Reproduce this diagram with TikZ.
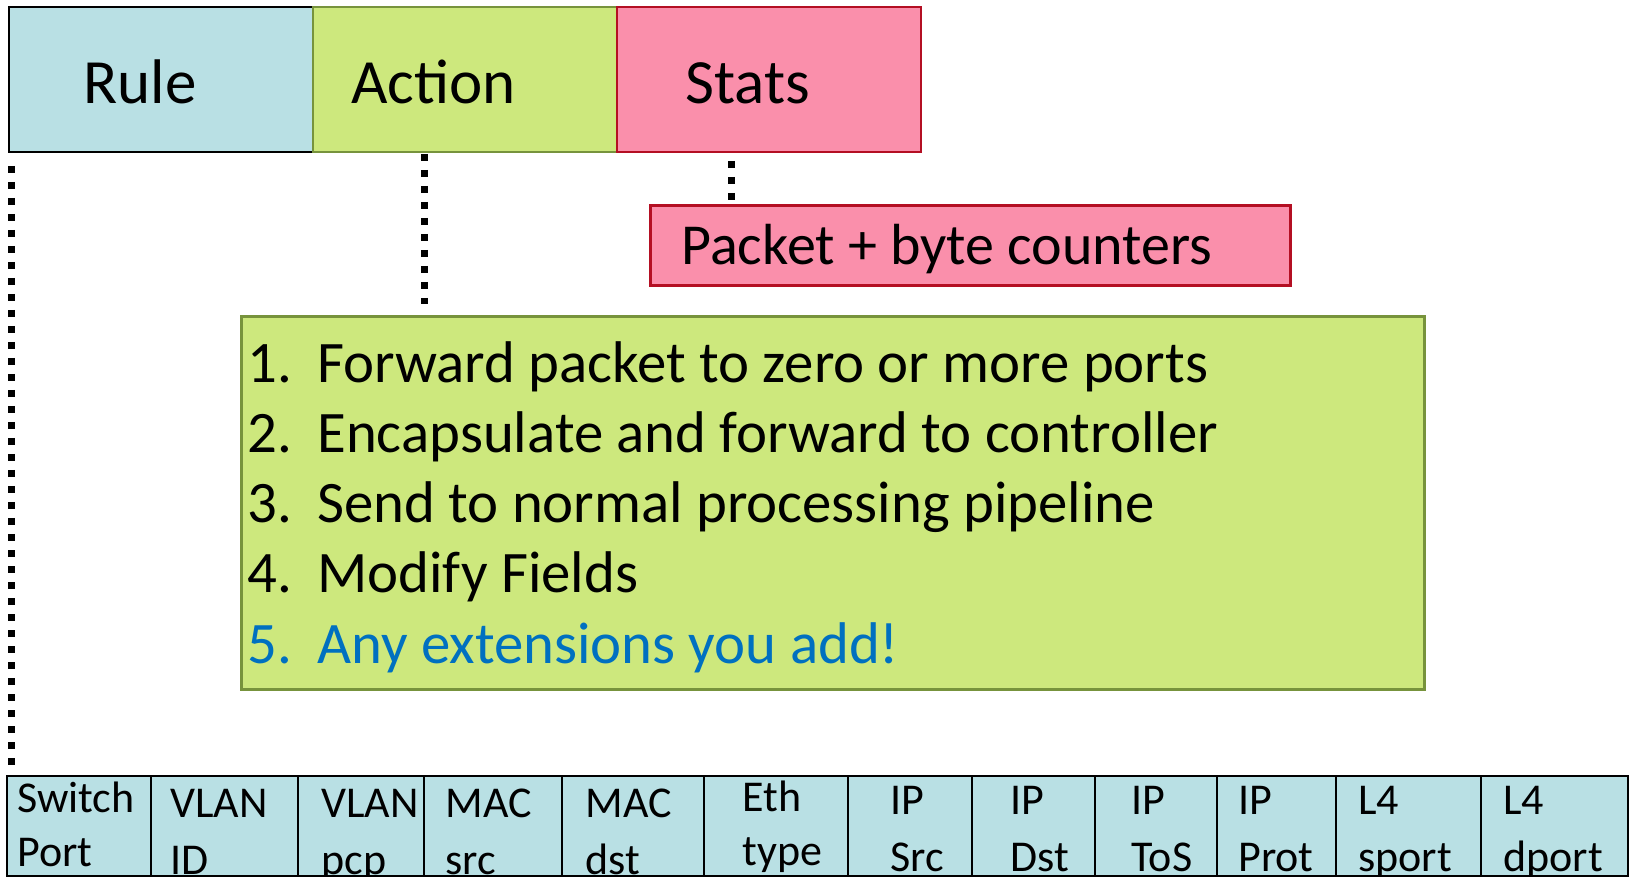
\documentclass[tikz,border=0pt]{standalone}
\usepackage{fontspec}
\setmainfont{Carlito}
\usetikzlibrary{positioning,calc}

\definecolor{ruleblue}{RGB}{185,224,228}
\definecolor{actgreen}{RGB}{205,232,125}
\definecolor{statpink}{RGB}{250,143,171}
\definecolor{olive}{RGB}{119,147,60}
\definecolor{darkred}{RGB}{180,15,35}
\definecolor{addblue}{RGB}{0,112,192}

\begin{document}
\begin{tikzpicture}[x=0.5pt,y=-0.5pt]
\tikzstyle{head}=[rectangle, minimum width=152pt, minimum height=72.5pt, inner sep=0pt, outer sep=0pt, line width=1.4pt, node distance=0pt]
\tikzstyle{cell}=[rectangle, draw=black, fill=ruleblue, minimum height=50pt, inner sep=0pt, outer sep=0pt, line width=1.4pt, node distance=0pt]
\tikzstyle{bigtext}=[anchor=base west, inner sep=0pt, font=\fontsize{31.5}{36}\selectfont]
\tikzstyle{listtext}=[anchor=base west, inner sep=0pt, font=\fontsize{29.4}{34}\selectfont]
\tikzstyle{celltext}=[anchor=base west, inner sep=0pt, font=\fontsize{22}{26}\selectfont]
\tikzstyle{dots}=[line width=3.5pt, dash pattern=on 3.5pt off 4.5pt]
  \useasboundingbox (0,0) rectangle (1630,877);

  % flow table entry
  \node[head, draw=black, fill=ruleblue, anchor=north west] (rule) at (9,7) {};
  \node[head, draw=olive, fill=actgreen] (action) [right=of rule] {};
  \node[head, draw=darkred, fill=statpink] (stats) [right=of action] {};
  \node[bigtext] (rulelbl) at (83,104) {Rule};
  \node[bigtext] (actionlbl) at (351,104) {Action};
  \node[bigtext] (statslbl) at (685,104) {Stats};

  % stats detail
  \node[rectangle, draw=darkred, fill=statpink, line width=1.4pt, minimum width=320pt, minimum height=40pt, anchor=north west] (counters) at (649,204) {};
  \node[listtext, font=\fontsize{29}{34}\selectfont] (counterslbl) at (681,265) {Packet + byte counters};

  % action detail
  \node[rectangle, draw=olive, fill=actgreen, line width=1.4pt, minimum width=591.5pt, minimum height=186.5pt, anchor=north west] (actlist) at (240,315) {};
  \node[listtext] (act1) at (247,383) {\makebox[35pt][l]{1.}Forward packet to zero or more ports};
  \node[listtext] (act2) at (247,453) {\makebox[35pt][l]{2.}Encapsulate and forward to controller};
  \node[listtext] (act3) at (247,523) {\makebox[35pt][l]{3.}Send to normal processing pipeline};
  \node[listtext] (act4) at (247,593) {\makebox[35pt][l]{4.}Modify Fields};
  \node[listtext, text=addblue] (act5) at (247,663) {\makebox[35pt][l]{5.}Any extensions you add!};

  % header fields
  \node[cell, minimum width=72pt, anchor=north west] (sw) at (7,776) {};
  \node[cell, minimum width=73.5pt] (vid) [right=of sw] {};
  \node[cell, minimum width=63pt] (vpcp) [right=of vid] {};
  \node[cell, minimum width=69pt] (msrc) [right=of vpcp] {};
  \node[cell, minimum width=71pt] (mdst) [right=of msrc] {};
  \node[cell, minimum width=72pt] (eth) [right=of mdst] {};
  \node[cell, minimum width=62pt] (ipsrc) [right=of eth] {};
  \node[cell, minimum width=61.5pt] (ipdst) [right=of ipsrc] {};
  \node[cell, minimum width=61pt] (iptos) [right=of ipdst] {};
  \node[cell, minimum width=59.5pt] (ipprot) [right=of iptos] {};
  \node[cell, minimum width=72.5pt] (sport) [right=of ipprot] {};
  \node[cell, minimum width=73.5pt] (dport) [right=of sport] {};
  \foreach \nm/\px/\ya/\yb/\la/\lb in {sw/17/812/866/Switch/Port, vid/170/817/874/VLAN/ID,
      vpcp/321/817/874/VLAN/pcp, msrc/445/817/874/MAC/src, mdst/585/817/874/MAC/dst,
      eth/742/811/865/Eth/type, ipsrc/890/814/871/IP/Src, ipdst/1010/814/871/IP/Dst,
      iptos/1131/814/871/IP/ToS, ipprot/1238/814/871/IP/Prot, sport/1358/814/871/L4/sport,
      dport/1503/814/871/L4/dport}
    {
      \node[celltext] (\nm-1) at (\px,\ya) {\la};
      \node[celltext] (\nm-2) at (\px,\yb) {\lb};
    }

  % dotted links
  \draw[dots] ($(rule.south west)+(2,14)$) -- ($(rule.south west |- sw.north)+(2,-7)$);
  \draw[dots] ($(action.south west)+(111,2)$) -- ($(action.south west |- actlist.north)+(111,-11)$);
  \draw[dots] ($(stats.south west)+(114,9)$) -- ($(stats.south west |- counters.north)+(114,-4)$);
\end{tikzpicture}
\end{document}
